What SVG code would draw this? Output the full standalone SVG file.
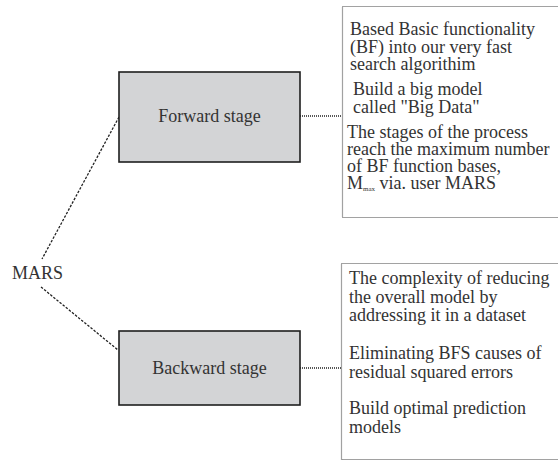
<svg xmlns="http://www.w3.org/2000/svg" width="558" height="462" viewBox="0 0 558 462">
<style>
text{fill:#333;font-size:18px;font-family:'Liberation Serif','Times New Roman',Times,serif}
.stage{fill:#d3d4d6;stroke:#1e1e1e;stroke-width:1.6}
.note{fill:none;stroke:#444;stroke-width:1.2;stroke-dasharray:1 1}
.conn{fill:none;stroke:#222;stroke-width:1.3}
.diag{stroke-dasharray:2.5 1.5}
.dot{stroke-dasharray:1 1}
.c{text-anchor:middle}
.sub{font-size:7px}
</style>
<rect width="558" height="462" fill="#fff"/>
<g id="connectors">
<line class="conn diag" x1="119" y1="117" x2="42" y2="259"/>
<line class="conn diag" x1="41" y1="287" x2="118" y2="350"/>
<line class="conn dot" x1="300" y1="116" x2="342" y2="116"/>
<line class="conn dot" x1="300" y1="368" x2="341" y2="368"/>
</g>
<g id="mars">
<text x="12" y="279">MARS</text>
</g>
<g id="forward">
<rect class="stage" x="119" y="72" width="181" height="90"/>
<text class="c" x="209.5" y="122">Forward stage</text>
</g>
<g id="backward">
<rect class="stage" x="119" y="331" width="181" height="74"/>
<text class="c" x="209.5" y="374">Backward stage</text>
</g>
<g id="forward-notes">
<rect class="note" x="342.5" y="6.5" width="220" height="211"/>
<text x="350" y="35">Based Basic functionality</text>
<text x="350" y="53">(BF) into our very fast</text>
<text x="350" y="70">search algorithim</text>
<text x="353" y="95">Build a big model</text>
<text x="353" y="113">called "Big Data"</text>
<text x="347" y="138">The stages of the process</text>
<text x="347" y="155">reach the maximum number</text>
<text x="347" y="172">of BF function bases,</text>
<text x="347" y="189">M<tspan class="sub" dy="2">max</tspan><tspan dy="-2"> via. user MARS</tspan></text>
</g>
<g id="backward-notes">
<rect class="note" x="341.5" y="263.5" width="220" height="196"/>
<text x="349" y="284">The complexity of reducing</text>
<text x="349" y="303">the overall model by</text>
<text x="349" y="321">addressing it in a dataset</text>
<text x="349" y="359">Eliminating BFS causes of</text>
<text x="349" y="378">residual squared errors</text>
<text x="349" y="414">Build optimal prediction</text>
<text x="349" y="433">models</text>
</g>
</svg>
